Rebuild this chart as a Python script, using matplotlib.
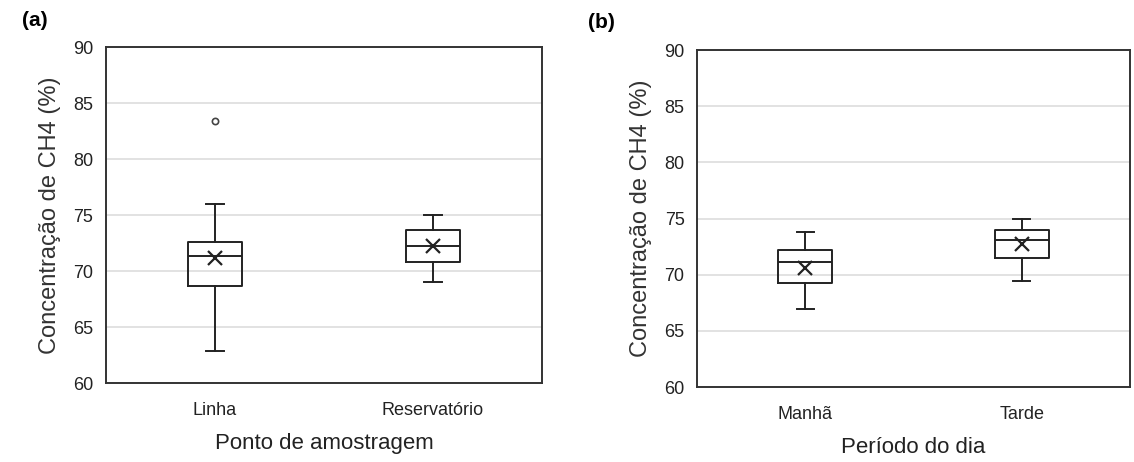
import matplotlib.pyplot as plt

plt.rcParams['font.family'] = ['Liberation Sans', 'DejaVu Sans']

# panel (a) - ponto de amostragem
pontos = ['Linha', 'Reservatório']
pontos_whislo = [62.9, 69.0]
pontos_q1 = [68.7, 70.8]
pontos_med = [71.3, 72.2]
pontos_mean = [71.2, 72.2]
pontos_q3 = [72.6, 73.7]
pontos_whishi = [76.0, 75.0]
pontos_fliers = [[83.4], []]

# panel (b) - periodo do dia
periodos = ['Manhã', 'Tarde']
periodos_whislo = [66.9, 69.4]
periodos_q1 = [69.3, 71.5]
periodos_med = [71.1, 73.1]
periodos_mean = [70.6, 72.7]
periodos_q3 = [72.2, 74.0]
periodos_whishi = [73.8, 75.0]
periodos_fliers = [[], []]

yticks = [60, 65, 70, 75, 80, 85, 90]


def make_stats(labels, lo, q1, med, mean, q3, hi, fliers):
    stats = []
    for i in range(len(labels)):
        stats.append(dict(label=labels[i], whislo=lo[i], q1=q1[i], med=med[i],
                          mean=mean[i], q3=q3[i], whishi=hi[i], fliers=fliers[i]))
    return stats


def draw_panel(ax, stats, xlabel):
    line = dict(color='#222222', linewidth=1.4)
    ax.bxp(stats, positions=[1, 2], widths=0.25, showmeans=True,
           boxprops=line, whiskerprops=line, capprops=line, medianprops=line,
           meanprops=dict(marker='x', markersize=10, markeredgecolor='#222222',
                          markeredgewidth=1.6),
           flierprops=dict(marker='o', markersize=4.5, markerfacecolor='none',
                           markeredgecolor='#444444', markeredgewidth=1.2),
           capwidths=0.08)
    ax.set_xlim(0.5, 2.5)
    ax.set_ylim(60, 90)
    ax.set_yticks(yticks)
    ax.yaxis.grid(True, color='#dddddd', linewidth=1.2)
    ax.set_axisbelow(True)
    ax.tick_params(length=0, labelsize=13, colors='#222222')
    ax.tick_params(axis='x', pad=14)
    ax.tick_params(axis='y', pad=9)
    for s in ax.spines.values():
        s.set_color('#333333')
        s.set_linewidth(1.4)
    ax.set_ylabel('Concentração de CH4 (%)', fontsize=17, color='#333333', labelpad=9)
    ax.set_xlabel(xlabel, fontsize=16, color='#222222', labelpad=10)


fig = plt.figure(figsize=(11.34, 4.62), dpi=100)
ax1 = fig.add_axes([106 / 1134, 1 - 383 / 462, 436 / 1134, 336 / 462])
ax2 = fig.add_axes([697 / 1134, 1 - 387 / 462, 433 / 1134, 337 / 462])

draw_panel(ax1, make_stats(pontos, pontos_whislo, pontos_q1, pontos_med, pontos_mean,
                           pontos_q3, pontos_whishi, pontos_fliers),
           'Ponto de amostragem')
draw_panel(ax2, make_stats(periodos, periodos_whislo, periodos_q1, periodos_med,
                           periodos_mean, periodos_q3, periodos_whishi, periodos_fliers),
           'Período do dia')

fig.text(22 / 1134, 1 - 20 / 462, '(a)', fontsize=15, fontweight='bold', va='center')
fig.text(588 / 1134, 1 - 22 / 462, '(b)', fontsize=15, fontweight='bold', va='center')

plt.savefig('out.png', dpi=100)
